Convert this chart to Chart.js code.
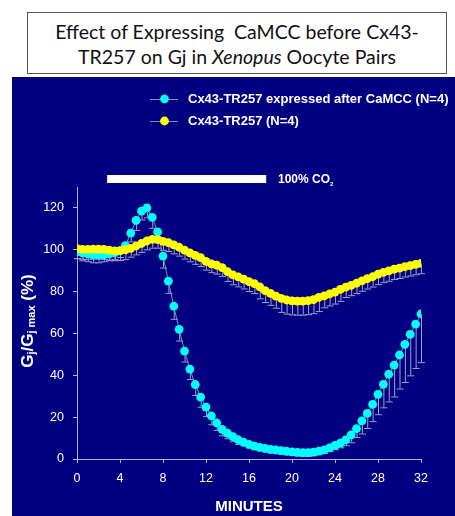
<!DOCTYPE html>
<html>
<head>
<meta charset="utf-8">
<script src="https://cdn.jsdelivr.net/npm/chart.js@4.4.0/dist/chart.umd.min.js"></script>
<style>
  body { margin: 0; background: #fff; width: 455px; height: 516px; overflow: hidden; position: relative; }
  #title {
    position: absolute; left: 27px; top: 12px; width: 420px; height: 62px;
    border: 1px solid #555; font-family: Lato, sans-serif; font-size: 19.5px;
    line-height: 25px; text-align: center; color: #111; padding-top: 6px; box-sizing: border-box;
  }
  #panel { position: absolute; left: 12px; top: 77px; width: 443px; height: 439px; background: #000080; }
</style>
</head>
<body>
<div id="title">Effect of Expressing&nbsp; CaMCC before Cx43-<br>TR257 on Gj in <i>Xenopus</i> Oocyte Pairs</div>
<div id="panel"><canvas id="chart" width="443" height="439"></canvas></div>
<script>
// time points (minutes)
const minutes = [0, 0.5, 1, 1.5, 2, 2.5, 3, 3.5, 4, 4.5, 5, 5.5, 6, 6.5, 7, 7.5, 8, 8.5, 9, 9.5,
  10, 10.5, 11, 11.5, 12, 12.5, 13, 13.5, 14, 14.5, 15, 15.5, 16, 16.5, 17, 17.5, 18, 18.5, 19, 19.5,
  20, 20.5, 21, 21.5, 22, 22.5, 23, 23.5, 24, 24.5, 25, 25.5, 26, 26.5, 27, 27.5, 28, 28.5, 29, 29.5,
  30, 30.5, 31, 31.5, 32];

// Cx43-TR257 expressed after CaMCC
const camccMean = [99, 98.5, 98, 97.5, 97.5, 97.5, 98, 98.5, 99.5, 102, 108, 114, 118.5, 120, 115.5, 108.5, 97, 85, 73, 62,
  51.6, 43, 35.6, 29.6, 24.8, 20.6, 17.2, 14.2, 12.3, 10.7, 9.2, 8, 7, 6.2, 5.6, 5.1, 4.6, 4.3, 4, 3.7,
  3.4, 3.2, 3, 3, 3.3, 3.8, 4.4, 5.3, 6.5, 7.6, 9.1, 11.5, 14.5, 18.2, 21.8, 26.1, 30.9, 35.7, 40.5, 44.9,
  49.7, 54.8, 59.6, 64.5, 69.3];
const camccErr = [3, 3.5, 3.5, 3.5, 3.5, 3, 3, 3, 3, 3, 4, 4.5, 4, 4.5, 5, 5, 5.5, 5.6, 6, 5.4,
  5, 4.8, 5, 4.6, 4.3, 4, 3.3, 2.9, 2.4, 2.2, 2, 1.5, 1.5, 1.5, 1.5, 1.5, 1.5, 1.5, 1.5, 1.5,
  1.5, 1.5, 1.5, 1.5, 1.5, 1.5, 1.5, 1.5, 1.8, 2, 2.5, 3.5, 4, 6, 7, 8, 9.5, 11, 13, 15,
  16, 18, 19.6, 21, 23];

// Cx43-TR257 alone
const trMean = [100.5, 100.2, 100.2, 100.3, 100.3, 100.2, 99.8, 99.5, 99.6, 100, 100.7, 101.8, 103, 104.2, 105, 105, 104, 103.4, 102.3, 101.2,
  99.8, 98.5, 97.3, 96.2, 94.5, 93.3, 92.6, 91.5, 89.6, 88, 87, 86, 84.8, 83.8, 82.3, 80.5, 79.2, 77.8, 76.8, 76,
  75.6, 75.5, 75.5, 75.7, 76.2, 77.2, 78, 78.9, 79.8, 81.1, 82.1, 83, 84, 85.1, 86.2, 87.1, 88.3, 89.2, 89.9, 90.7,
  91.2, 91.9, 92.4, 93, 93.5];
const trErr = [4.5, 4.5, 4.5, 4.5, 4.5, 4.5, 4.5, 4.5, 4.5, 4.5, 4, 4, 4, 4, 4, 4, 4, 4, 4, 4,
  4, 4, 4, 4, 4, 4, 4, 4, 4.5, 4.5, 4.5, 4.5, 4.5, 4.5, 5.5, 5.5, 5.5, 5.5, 6.5, 6.5,
  6.5, 6.5, 6.5, 6.5, 6.5, 6.5, 5.5, 5.5, 5.5, 5.5, 4.7, 4.7, 4.7, 4.7, 4.7, 4.7, 4.7, 4.7, 4.7, 4.7,
  4.7, 4.7, 4.7, 4.7, 4.7];

const seriesNames = ['Cx43-TR257 expressed after CaMCC (N=4)', 'Cx43-TR257 (N=4)'];
const co2Period = [2.8, 17.6];
const co2Label = '100% CO';

const lineGrey = '#8c8cbc';
const errGrey = '#a0a0cc';
const dotR = 4.4;

function pts(ys) { return minutes.map((m, i) => ({ x: m, y: ys[i] })); }

// lower error bars, drawn under the points
const errorBars = {
  id: 'errorBars',
  beforeDatasetsDraw(chart) {
    const ctx = chart.ctx, ys = chart.scales.y;
    ctx.save();
    ctx.strokeStyle = errGrey;
    ctx.lineWidth = 1;
    chart.data.datasets.forEach((ds, di) => {
      const meta = chart.getDatasetMeta(di);
      meta.data.forEach((p, i) => {
        const yb = ys.getPixelForValue(ds.data[i].y - ds.err[i]);
        ctx.beginPath();
        ctx.moveTo(p.x + 0.5, p.y);
        ctx.lineTo(p.x + 0.5, yb);
        ctx.moveTo(p.x - 3, yb + 0.5);
        ctx.lineTo(p.x + 4, yb + 0.5);
        ctx.stroke();
      });
    });
    ctx.restore();
  }
};

// legend, CO2 bar and the y title with subscripts
const extras = {
  id: 'extras',
  afterDraw(chart) {
    const ctx = chart.ctx, xs = chart.scales.x;
    ctx.save();
    // legend
    const colors = ['#00ffff', '#ffff00'];
    ctx.font = 'bold 13px "Liberation Sans", Arial, sans-serif';
    ctx.textBaseline = 'middle';
    seriesNames.forEach((name, i) => {
      const y = 22 + i * 22;
      ctx.strokeStyle = lineGrey;
      ctx.lineWidth = 1;
      ctx.beginPath();
      ctx.moveTo(138, y + 0.5);
      ctx.lineTo(166, y + 0.5);
      ctx.stroke();
      ctx.fillStyle = colors[i];
      ctx.beginPath();
      ctx.arc(152.5, y, dotR, 0, Math.PI * 2);
      ctx.fill();
      ctx.fillStyle = '#fff';
      ctx.fillText(name, 176, y);
    });
    // CO2 bar
    const x0 = xs.getPixelForValue(co2Period[0]);
    const x1 = xs.getPixelForValue(co2Period[1]);
    ctx.fillStyle = '#fff';
    ctx.fillRect(x0, 98, x1 - x0, 8);
    ctx.font = 'bold 12px "Liberation Sans", Arial, sans-serif';
    ctx.fillText(co2Label, 266, 103);
    const w = ctx.measureText(co2Label).width;
    ctx.font = 'bold 6px "Liberation Sans", Arial, sans-serif';
    ctx.fillText('2', 266 + w, 107);
    // y axis title: Gj/Gj max (%)
    const big = 'bold 17px "Liberation Sans", Arial, sans-serif';
    const small = 'bold 11px "Liberation Sans", Arial, sans-serif';
    const parts = [['G', big, 0], ['j', small, 4], ['/G', big, 0], ['j max', small, 4], [' (%)', big, 0]];
    let total = 0;
    parts.forEach(p => { ctx.font = p[1]; total += ctx.measureText(p[0]).width; });
    ctx.translate(16, 244);
    ctx.rotate(-Math.PI / 2);
    let cx = -total / 2;
    parts.forEach(p => {
      ctx.font = p[1];
      ctx.fillText(p[0], cx, p[2]);
      cx += ctx.measureText(p[0]).width;
    });
    ctx.restore();
  }
};

const axisColor = '#b4b4d4';
const tickFont = { family: '"Liberation Sans", Arial, sans-serif', size: 12.5 };

new Chart(document.getElementById('chart'), {
  type: 'line',
  data: {
    datasets: [
      {
        label: seriesNames[0], data: pts(camccMean), err: camccErr, order: 2,
        borderColor: lineGrey, borderWidth: 1, pointRadius: dotR, pointBorderWidth: 0,
        pointBackgroundColor: '#00ffff', tension: 0
      },
      {
        label: seriesNames[1], data: pts(trMean), err: trErr, order: 1,
        borderColor: lineGrey, borderWidth: 1, pointRadius: dotR, pointBorderWidth: 0,
        pointBackgroundColor: '#ffff00', tension: 0
      }
    ]
  },
  options: {
    responsive: false,
    animation: false,
    layout: { padding: { top: 110, right: 34, left: 0, bottom: 0 } },
    plugins: { legend: { display: false }, tooltip: { enabled: false } },
    scales: {
      x: {
        type: 'linear', min: 0, max: 32,
        ticks: { stepSize: 4, color: '#fff', font: tickFont, padding: 8, maxRotation: 0 },
        grid: { drawOnChartArea: false, tickLength: 4, color: axisColor },
        border: { color: axisColor },
        title: { display: true, text: 'MINUTES', color: '#fff',
          font: { family: '"Liberation Sans", Arial, sans-serif', size: 15, weight: 'bold' }, padding: { top: 0, bottom: 0 } },
        afterFit: a => { a.height = 57; }
      },
      y: {
        min: 0, max: 130,
        afterBuildTicks: a => { a.ticks = a.ticks.filter(t => t.value <= 120); },
        ticks: { stepSize: 20, color: '#fff', font: tickFont, padding: 9 },
        grid: { drawOnChartArea: false, tickLength: 4, color: axisColor },
        border: { color: axisColor },
        afterFit: a => { a.width = 65; }
      }
    }
  },
  plugins: [errorBars, extras]
});
</script>
</body>
</html>
